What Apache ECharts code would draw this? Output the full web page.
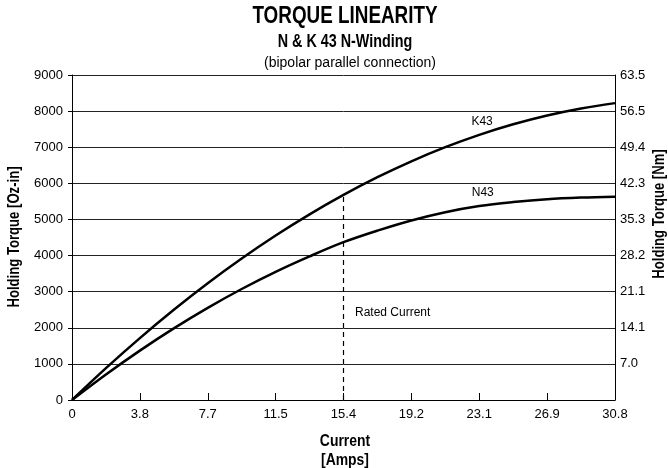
<!DOCTYPE html>
<html>
<head>
<meta charset="utf-8">
<script src="https://cdn.jsdelivr.net/npm/echarts@6/dist/echarts.min.js"></script>
<style>
html,body{margin:0;padding:0;background:#fff;}
#chart{width:668px;height:468px;}
</style>
</head>
<body>
<div id="chart"></div>
<script>
// ---- data ----
const currentAmps = [0, 1.925, 3.85, 5.775, 7.7, 9.625, 11.55, 13.475, 15.4, 17.325, 19.25, 21.175, 23.1, 25.025, 26.95, 28.875, 30.8];
const k43Torque   = [0, 882, 1714, 2498, 3233, 3918, 4555, 5142, 5680, 6170, 6610, 7001, 7343, 7636, 7880, 8075, 8221];
const n43Torque   = [0, 707, 1368, 1983, 2552, 3074, 3549, 3977, 4370, 4690, 4972, 5200, 5370, 5480, 5560, 5605, 5630];
const xTickLabels = ['0', '3.8', '7.7', '11.5', '15.4', '19.2', '23.1', '26.9', '30.8'];
const ozTickLabels = ['0', '1000', '2000', '3000', '4000', '5000', '6000', '7000', '8000', '9000'];
const nmTickLabels = ['', '7.0', '14.1', '21.1', '28.2', '35.3', '42.3', '49.4', '56.5', '63.5'];
const ratedCurrent = [15.4, 5680];
const seriesNames = ['K43', 'N43'];
const seriesLabelPos = [[23.26, 7707], [23.3, 5732]];
const ratedLabelPos = [16.05, 2417];

const regular = '"Liberation Sans",Arial,Helvetica,sans-serif';
const boldFont = (px) => 'bold ' + px + 'px "Liberation Sans",Arial,Helvetica,sans-serif';
const COND = 0.82; // horizontal squeeze to imitate a condensed bold face

function pairs(xs, ys){ return xs.map((x,i)=>[x, ys[i]]); }

function condText(text, x, y, px, rot){
  return {type:'text', x:x, y:y, rotation:rot || 0, scaleX:COND, scaleY:1, silent:true,
    style:{text:text, font:boldFont(px), fill:'#000', align:'center', verticalAlign:'middle'}};
}

const chart = echarts.init(document.getElementById('chart'), null, {renderer:'canvas'});
chart.setOption({
  animation: false,
  backgroundColor: '#fff',
  title: [
    {text:'(bipolar parallel connection)', left:345, top:51, textAlign:'center',
     textStyle:{fontFamily:regular, fontWeight:'normal', fontSize:14, color:'#000'}}
  ],
  graphic: [
    condText('TORQUE LINEARITY', 345, 17, 23),
    condText('N & K 43 N-Winding', 345, 42, 17.5),
    condText('Current', 345, 441, 17),
    condText('[Amps]', 345, 460, 17),
    condText('Holding Torque [Oz-in]', 15, 237, 16, Math.PI/2),
    condText('Holding Torque [Nm]', 660, 214, 16, Math.PI/2)
  ],
  grid: {left:72, right:53, top:75, bottom:68, containLabel:false},
  xAxis: {
    type:'value', min:0, max:30.8, interval:3.85,
    axisLine:{show:true, lineStyle:{color:'#000', width:1}},
    axisTick:{show:true, inside:true, length:7, lineStyle:{color:'#000'}},
    axisLabel:{fontFamily:regular, fontSize:13, color:'#000', margin:8,
      formatter:(v)=>xTickLabels[Math.round(v/3.85)]},
    splitLine:{show:false}
  },
  yAxis: [
    {type:'value', min:0, max:9000, interval:1000, position:'left',
     axisLine:{show:true, lineStyle:{color:'#000', width:1}},
     axisTick:{show:true, length:4, lineStyle:{color:'#000'}},
     axisLabel:{fontFamily:regular, fontSize:13, color:'#000', margin:9,
       formatter:(v)=>ozTickLabels[Math.round(v/1000)]},
     splitLine:{show:true, lineStyle:{color:'#222', width:1}}},
    {type:'value', min:0, max:9000, interval:1000, position:'right',
     axisLine:{show:true, lineStyle:{color:'#000', width:1}},
     axisTick:{show:false},
     axisLabel:{fontFamily:regular, fontSize:13, color:'#000', margin:5,
       formatter:(v)=>nmTickLabels[Math.round(v/1000)]},
     splitLine:{show:false}}
  ],
  series: [
    {name:seriesNames[0], type:'line', data:pairs(currentAmps, k43Torque), smooth:0.35,
     showSymbol:false, lineStyle:{color:'#000', width:2.5},
     markPoint:{symbolSize:0, data:[{coord:seriesLabelPos[0], value:seriesNames[0]}],
       label:{show:true, position:'inside', formatter:seriesNames[0], fontFamily:regular, fontSize:12, color:'#000'}}},
    {name:seriesNames[1], type:'line', data:pairs(currentAmps, n43Torque), smooth:0.35,
     showSymbol:false, lineStyle:{color:'#000', width:2.5},
     markPoint:{symbolSize:0, data:[{coord:seriesLabelPos[1], value:seriesNames[1]}],
       label:{show:true, position:'inside', formatter:seriesNames[1], fontFamily:regular, fontSize:12, color:'#000'}}},
    {name:'Rated Current', type:'line', data:[[ratedCurrent[0],0],[ratedCurrent[0],ratedCurrent[1]]],
     showSymbol:false, lineStyle:{color:'#000', width:1.2, type:[5,4]},
     markPoint:{symbolSize:0, data:[{coord:ratedLabelPos, value:'Rated Current'}],
       label:{show:true, position:'inside', align:'left', formatter:'Rated Current', fontFamily:regular, fontSize:12, color:'#000'}}}
  ]
});
</script>
</body>
</html>
